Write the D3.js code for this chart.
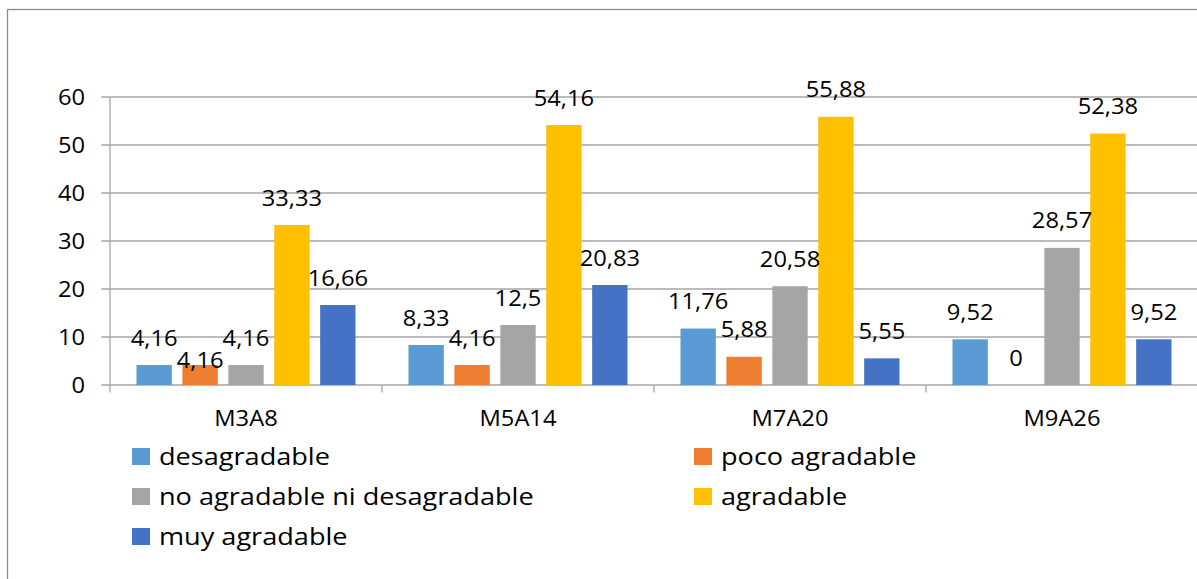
<!DOCTYPE html>
<html><head><meta charset="utf-8">
<script src="https://cdn.jsdelivr.net/npm/d3@7"></script>
<style>
html,body{margin:0;padding:0;background:#fff;}
svg{display:block;}
text{font-family:"Open Sans",sans-serif;fill:#000;}
</style></head>
<body>
<svg id="chart" width="1197" height="579"></svg>
<script>
const categories = ["M3A8", "M5A14", "M7A20", "M9A26"];
const seriesNames = ["desagradable", "poco agradable", "no agradable ni desagradable", "agradable", "muy agradable"];
const desagradable = [4.16, 8.33, 11.76, 9.52];
const pocoAgradable = [4.16, 4.16, 5.88, 0];
const noAgradableNiDesagradable = [4.16, 12.5, 20.58, 28.57];
const agradable = [33.33, 54.16, 55.88, 52.38];
const muyAgradable = [16.66, 20.83, 5.55, 9.52];
const yTicks = [0, 10, 20, 30, 40, 50, 60];

const seriesValues = [desagradable, pocoAgradable, noAgradableNiDesagradable, agradable, muyAgradable];
const colors = ["#5B9BD5", "#ED7D31", "#A5A5A5", "#FFC000", "#4472C4"];
// manual label nudge (pixels down) for the overlapping label in the original
const labelNudge = {"0|1": 22};

const SX = 1.13; // horizontal text stretch
const svg = d3.select("#chart");

// outer border
svg.append("rect").attr("x", 7.5).attr("y", 9.5).attr("width", 1300).attr("height", 700)
  .attr("fill", "none").attr("stroke", "#8c8c8c").attr("stroke-width", 1.3);

const plotLeft = 110, plotRight = 1198, plotTop = 97, plotBottom = 385;
const y = d3.scaleLinear().domain([0, 60]).range([plotBottom, plotTop]);
const x0 = d3.scaleBand().domain(categories).range([plotLeft, plotRight]).padding(0);
const x1 = d3.scaleBand().domain(d3.range(seriesNames.length)).range([0, x0.bandwidth()])
  .paddingInner(0.23).paddingOuter(0.577);

function stext(g, x, yy, str, size, anchor) {
  return g.append("text")
    .attr("transform", `translate(${x},${yy}) scale(${SX},1)`)
    .attr("text-anchor", anchor)
    .style("font-size", size + "px")
    .text(str);
}

// gridlines
const grid = svg.append("g");
grid.selectAll("line").data(yTicks).join("line")
  .attr("x1", 101).attr("x2", plotRight).attr("y1", d => y(d)).attr("y2", d => y(d))
  .attr("stroke", "#a6a6a6").attr("stroke-width", 1.3);

// y axis line
svg.append("line").attr("x1", plotLeft).attr("x2", plotLeft).attr("y1", plotTop).attr("y2", plotBottom + 7.5)
  .attr("stroke", "#a6a6a6").attr("stroke-width", 1.3);

// category ticks
const catEdges = categories.map(c => x0(c)).concat([x0(categories[categories.length - 1]) + x0.bandwidth()]);
svg.append("g").selectAll("line").data(catEdges.slice(1)).join("line")
  .attr("x1", d => d).attr("x2", d => d).attr("y1", plotBottom).attr("y2", plotBottom + 7.5)
  .attr("stroke", "#a6a6a6").attr("stroke-width", 1.3);

// y tick labels
const yl = svg.append("g");
yTicks.forEach(t => stext(yl, 85, y(t) + 7.5, String(t), 21, "end"));

// bars
const bars = svg.append("g");
categories.forEach((c, ci) => {
  seriesValues.forEach((vals, si) => {
    const v = vals[ci];
    bars.append("rect")
      .attr("x", x0(c) + x1(si))
      .attr("y", y(v))
      .attr("width", x1.bandwidth())
      .attr("height", plotBottom - y(v))
      .attr("fill", colors[si]);
  });
});

// data labels
const labels = svg.append("g");
categories.forEach((c, ci) => {
  seriesValues.forEach((vals, si) => {
    const v = vals[ci];
    const nudge = labelNudge[ci + "|" + si] || 0;
    const str = String(v).replace(".", ",");
    stext(labels, x0(c) + x1(si) + x1.bandwidth() / 2, y(v) - 19.5 + nudge, str, 21, "middle");
  });
});

// category labels
const cl = svg.append("g");
categories.forEach(c => stext(cl, x0(c) + x0.bandwidth() / 2, 426, c, 21, "middle"));

// legend
const legendCols = [132, 694];
const legendRows = [456.5, 496.5, 536.5];
const lg = svg.append("g");
seriesNames.forEach((name, i) => {
  const lx = legendCols[i % 2];
  const ly = legendRows[Math.floor(i / 2)];
  lg.append("rect").attr("x", lx).attr("y", ly - 8.5).attr("width", 18).attr("height", 17)
    .attr("fill", colors[i]);
  stext(lg, lx + 27, ly + 8.5, name, 24, "start");
});
</script>
</body></html>
